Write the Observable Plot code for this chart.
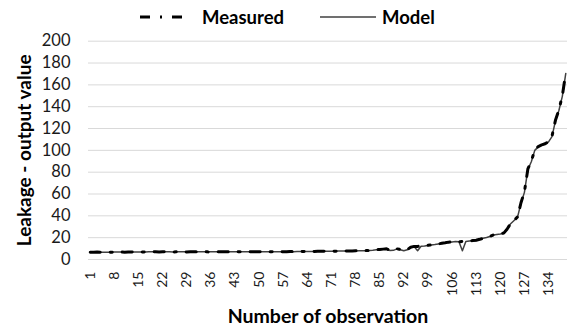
<!DOCTYPE html>
<html>
<head>
<meta charset="utf-8">
<script src="https://cdn.jsdelivr.net/npm/d3@7"></script>
<script src="https://cdn.jsdelivr.net/npm/@observablehq/plot@0.6"></script>
<style>
  body { margin: 0; background: #fff; font-family: Lato, "Open Sans", sans-serif; }
  #wrap { width: 567px; height: 327px; position: relative; overflow: hidden; }
  #legend { position: relative; height: 28px; font-weight: bold; font-size: 18.5px; color: #000; }
  #legend .item { position: absolute; top: 6px; height: 22px; display: flex; align-items: center; }
  #legend svg { display: block; }
</style>
</head>
<body>
<div id="wrap">
  <div id="legend"></div>
  <div id="chart"></div>
</div>
<script>
// Observation numbers along the category axis
const observation = d3.range(1, 140);
const xTickLabels = [1, 8, 15, 22, 29, 36, 43, 50, 57, 64, 71, 78, 85, 92, 99, 106, 113, 120, 127, 134];
const yTickLabels = [0, 20, 40, 60, 80, 100, 120, 140, 160, 180, 200];

// Measured leakage for each observation
const measured = [
  6.6, 6.7, 6.8, 6.7, 6.6, 6.5, 6.7, 6.8, 6.9, 6.8, 6.7, 6.8, 6.9, 7.0, 6.9, 6.8, 6.9, 7.0, 7.1, 7.0,
  6.9, 7.0, 7.1, 7.0, 6.9, 7.0, 7.1, 7.0, 6.9, 7.0, 7.1, 7.0, 7.0, 7.1, 7.0, 6.9, 7.0, 7.1, 7.2, 7.1,
  7.0, 7.1, 7.2, 7.1, 7.0, 7.1, 7.2, 7.1, 7.0, 7.1, 7.2, 7.1, 7.1, 7.2, 7.3, 7.2, 7.1, 7.2, 7.3, 7.2,
  7.3, 7.4, 7.3, 7.4, 7.5, 7.4, 7.5, 7.6, 7.5, 7.6, 7.7, 7.6, 7.7, 7.8, 7.7, 7.8, 7.9, 8.0, 8.1, 8.0,
  8.2, 8.2, 8.5, 9.0, 9.2, 9.5, 9.8, 8.5, 8.5, 9.8, 9.2, 8.2, 9.0, 11.3, 12.0, 12.0, 12.2, 12.5, 13.0, 13.4,
  13.8, 14.3, 14.8, 15.3, 15.9, 16.2, 16.5, 16.3, 16.5, 16.6, 17.0, 17.3, 17.6, 18.5, 19.5, 20.3, 21.2, 22.5, 23.0, 23.5,
  24.2, 28.0, 33.0, 36.0, 39.0, 52.0, 62.0, 83.0, 90.0, 100.5, 103.5, 105.0, 106.0, 108.0, 113.0, 127.5, 137.0, 150.0, 171.0
];

// Model output for each observation
const model = [
  6.7, 6.7, 6.8, 6.7, 6.6, 6.6, 6.7, 6.8, 6.8, 6.8, 6.7, 6.8, 6.9, 6.9, 6.9, 6.8, 6.9, 7.0, 7.0, 7.0,
  6.9, 7.0, 7.0, 7.0, 6.9, 7.0, 7.1, 7.0, 7.0, 7.0, 7.1, 7.0, 7.0, 7.1, 7.0, 7.0, 7.0, 7.1, 7.1, 7.1,
  7.0, 7.1, 7.1, 7.1, 7.0, 7.1, 7.2, 7.1, 7.1, 7.1, 7.2, 7.1, 7.1, 7.2, 7.2, 7.2, 7.1, 7.2, 7.3, 7.2,
  7.3, 7.3, 7.3, 7.4, 7.4, 7.4, 7.5, 7.5, 7.5, 7.6, 7.6, 7.6, 7.7, 7.7, 7.7, 7.8, 7.9, 7.9, 8.0, 8.0,
  8.1, 8.2, 8.4, 8.9, 9.1, 9.4, 9.6, 8.3, 8.4, 9.7, 9.0, 8.0, 8.9, 11.0, 11.8, 8.0, 12.1, 12.4, 12.9, 13.3,
  13.7, 14.2, 14.7, 15.2, 15.8, 16.1, 16.4, 16.2, 8.0, 16.5, 16.9, 17.2, 17.5, 18.4, 19.4, 20.2, 21.1, 22.4, 22.9, 23.4,
  24.1, 27.8, 32.8, 35.8, 38.8, 51.5, 61.5, 82.5, 89.5, 100.0, 103.2, 104.8, 105.8, 107.8, 112.5, 127.0, 136.5, 149.5, 170.5
];

const rows = observation.map((obs, i) => ({obs, measured: measured[i], model: model[i]}));

const font = 'Lato, "Open Sans", sans-serif';
const dash = "10,10,2,10";

// Legend above the chart
const legend = d3.select("#legend");
const m = legend.append("div").attr("class", "item").style("left", "140px");
m.append("svg").attr("width", 52).attr("height", 12)
  .append("line").attr("x1", 0).attr("x2", 52).attr("y1", 6).attr("y2", 6)
  .attr("stroke", "#000").attr("stroke-width", 3).attr("stroke-dasharray", dash);
m.append("span").style("margin-left", "10px").text("Measured");
const mo = legend.append("div").attr("class", "item").style("left", "320px");
mo.append("svg").attr("width", 56).attr("height", 12)
  .append("line").attr("x1", 0).attr("x2", 56).attr("y1", 6).attr("y2", 6)
  .attr("stroke", "#404040").attr("stroke-width", 1.5);
mo.append("span").style("margin-left", "6px").text("Model");

const chart = Plot.plot({
  width: 567,
  height: 299,
  marginTop: 12.7,
  marginBottom: 68,
  marginLeft: 88,
  marginRight: 0,
  style: {fontFamily: font, color: "#1a1a1a", background: "#fff"},
  x: {type: "point", domain: observation, padding: 0.5},
  y: {domain: [0, 200]},
  marks: [
    Plot.gridY(yTickLabels, {stroke: "#d9d9d9", strokeOpacity: 1, strokeWidth: 1}),
    Plot.axisY(yTickLabels, {tickSize: 0, tickPadding: 18, label: null, fontSize: 16.5}),
    Plot.axisX(xTickLabels, {tickSize: 0, tickRotate: -90, tickPadding: 12, label: null, fontSize: 14}),
    Plot.line(rows, {x: "obs", y: "model", stroke: "#404040", strokeWidth: 1.5}),
    Plot.line(rows, {x: "obs", y: "measured", stroke: "#000", strokeWidth: 3, strokeDasharray: dash}),
    Plot.text(["Number of observation"], {
      frameAnchor: "bottom", dy: 57, lineAnchor: "middle",
      fontWeight: "bold", fontSize: 19.5, fill: "#000"
    }),
    Plot.text(["Leakage - output value"], {
      frameAnchor: "left", dx: -64, rotate: -90, lineAnchor: "middle", textAnchor: "middle",
      fontWeight: "bold", fontSize: 19, fill: "#000"
    })
  ]
});
document.getElementById("chart").append(chart);
</script>
</body>
</html>
